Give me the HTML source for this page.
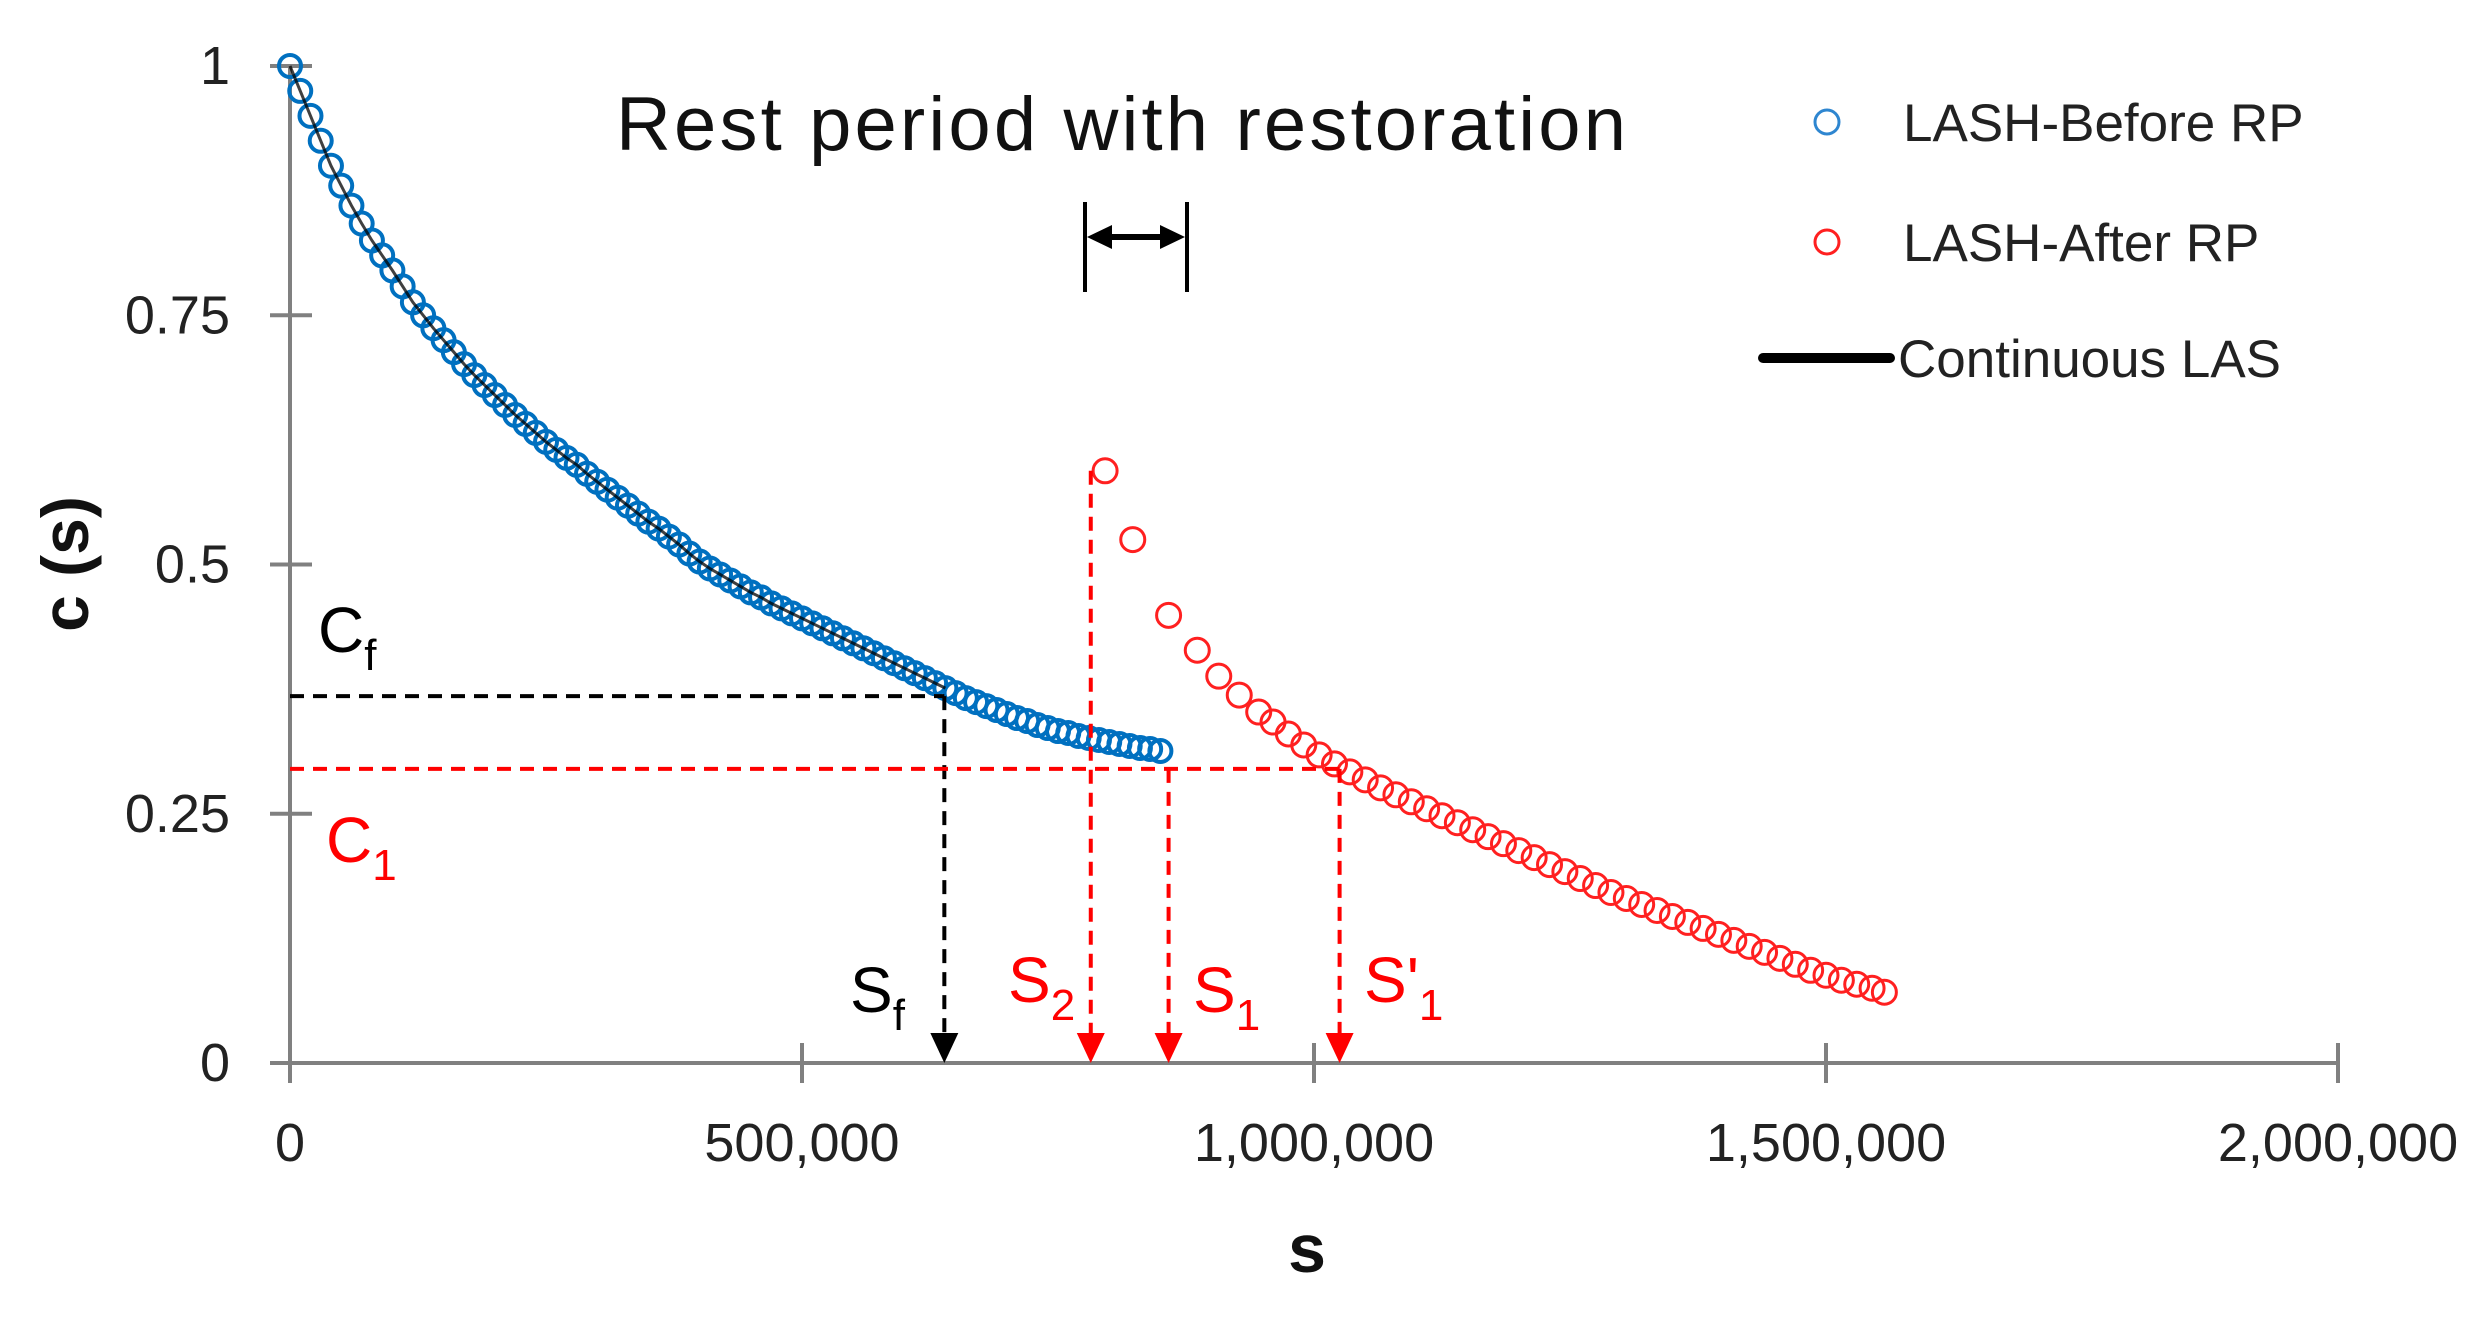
<!DOCTYPE html>
<html><head><meta charset="utf-8"><style>
html,body{margin:0;padding:0;background:#fff}
svg{display:block}
text{font-family:"Liberation Sans","DejaVu Sans",sans-serif}
</style></head><body>
<svg id="chart" width="2476" height="1318" viewBox="0 0 2476 1318" xmlns="http://www.w3.org/2000/svg">
<rect width="2476" height="1318" fill="#fff"/>
<g id="axes"></g>
<g id="series"></g>
<g id="annot"></g>
</svg>
<script>
const xTicks=[0,500000,1000000,1500000,2000000];
const xTickLabels=["0","500,000","1,000,000","1,500,000","2,000,000"];
const yTicks=[0,0.25,0.5,0.75,1];
const yTickLabels=["0","0.25","0.5","0.75","1"];
const beforeS=[0,10000,20000,30000,40000,50000,60000,70000,80000,90000,100000,110000,120000,130000,140000,150000,160000,170000,180000,190000,200000,210000,220000,230000,240000,250000,260000,270000,280000,290000,300000,310000,320000,330000,340000,350000,360000,370000,380000,390000,400000,410000,420000,430000,440000,450000,460000,470000,480000,490000,500000,510000,520000,530000,540000,550000,560000,570000,580000,590000,600000,610000,620000,630000,640000,650000,660000,670000,680000,690000,700000,710000,720000,730000,740000,750000,760000,770000,780000,790000,800000,810000,820000,830000,840000,850000];
const beforeC=[1.0,0.975,0.95,0.925,0.90,0.88,0.86,0.842,0.825,0.81,0.795,0.779,0.763,0.75,0.737,0.725,0.713,0.701,0.69,0.68,0.67,0.66,0.65,0.641,0.632,0.623,0.615,0.607,0.60,0.591,0.583,0.575,0.567,0.559,0.551,0.543,0.536,0.528,0.52,0.511,0.503,0.496,0.49,0.484,0.478,0.472,0.467,0.461,0.456,0.451,0.446,0.441,0.436,0.431,0.426,0.421,0.416,0.411,0.406,0.401,0.396,0.391,0.386,0.381,0.376,0.371,0.366,0.362,0.358,0.354,0.35,0.346,0.343,0.339,0.336,0.333,0.331,0.328,0.326,0.324,0.322,0.32,0.318,0.316,0.315,0.313];
const afterS=[796000,823000,858000,886000,907000,927000,946000,960000,975000,990000,1005000,1020000,1035000,1050000,1065000,1080000,1095000,1110000,1125000,1140000,1155000,1170000,1185000,1200000,1215000,1230000,1245000,1260000,1275000,1290000,1305000,1320000,1335000,1350000,1365000,1380000,1395000,1410000,1425000,1440000,1455000,1470000,1485000,1500000,1515000,1530000,1545000,1557000];
const afterC=[0.594,0.525,0.449,0.414,0.388,0.369,0.352,0.342,0.330,0.319,0.309,0.300,0.292,0.284,0.276,0.269,0.262,0.255,0.248,0.241,0.234,0.227,0.220,0.213,0.206,0.199,0.192,0.185,0.178,0.171,0.165,0.159,0.153,0.147,0.141,0.135,0.129,0.123,0.117,0.111,0.105,0.099,0.093,0.088,0.083,0.079,0.075,0.071];
const cf=0.368, c1=0.295, sf=639000, s2=782000, s1=858000, s1p=1025000;

const NS="http://www.w3.org/2000/svg";
const X0=290,XK=1024/1e6,Y0=1063,YK=997;
function sx(v){return X0+v*XK;}
function sy(v){return Y0-v*YK;}
function mk(tag,attrs,parent){const e=document.createElementNS(NS,tag);for(const k in attrs)e.setAttribute(k,attrs[k]);parent.appendChild(e);return e;}
const axes=document.getElementById('axes'),series=document.getElementById('series'),annot=document.getElementById('annot');
let e;
e=mk('line',{x1:sx(0),y1:sy(0),x2:sx(2000000),y2:sy(0),stroke:'#808080','stroke-width':4},axes);


e=mk('line',{x1:sx(0),y1:sy(0)+18,x2:sx(0),y2:sy(1),stroke:'#808080','stroke-width':4},axes);


xTicks.forEach((t,i)=>{
  e=mk('line',{x1:sx(t),y1:sy(0)-20,x2:sx(t),y2:sy(0)+20,stroke:'#808080','stroke-width':4},axes);
  
  
  e=mk('text',{x:sx(t),y:1161,'font-size':54,'text-anchor':'middle',fill:'#222'},axes);
  e.textContent=xTickLabels[i];
  
  
});
yTicks.forEach((t,i)=>{
  e=mk('line',{x1:sx(0)-20,y1:sy(t),x2:sx(0)+22,y2:sy(t),stroke:'#808080','stroke-width':4},axes);
  
  
  e=mk('text',{x:230,y:sy(t)+18,'font-size':54,'text-anchor':'end',fill:'#222'},axes);
  e.textContent=yTickLabels[i];
  
  
});
e=mk('text',{x:1307,y:1272,'font-size':68,'font-weight':'bold','text-anchor':'middle',fill:'#111'},axes);
e.textContent='s';


e=mk('text',{x:0,y:0,'font-size':66,'font-weight':'bold','text-anchor':'middle',fill:'#111',transform:'translate(88,564) rotate(-90)'},axes);
e.textContent='c (s)';



beforeS.forEach((s,i)=>{
  e=mk('circle',{cx:sx(s),cy:sy(beforeC[i]),r:11,fill:'none',stroke:'#0070C0','stroke-width':4},series);
  
  
});
let pts=[];beforeS.forEach((s,i)=>{if(s<=sf+10000)pts.push((pts.length?'L':'M')+sx(s)+' '+sy(beforeC[i]));});
e=mk('path',{d:pts.join(' '),fill:'none',stroke:'#000','stroke-width':3,opacity:0.75},series);


afterS.forEach((s,i)=>{
  e=mk('circle',{cx:sx(s),cy:sy(afterC[i]),r:12,fill:'none',stroke:'#FF2020','stroke-width':3},series);
  
  
});

function dash(x1,y1,x2,y2,col,name){
  e=mk('line',{x1:x1,y1:y1,x2:x2,y2:y2,stroke:col,'stroke-width':4,'stroke-dasharray':'14 9'},annot);
  
  
}
function arrowHead(x,col,name){
  const y=sy(0);
  e=mk('polygon',{points:(x-14)+','+(y-30)+' '+(x+14)+','+(y-30)+' '+x+','+y,fill:col},annot);
  
  
}
dash(sx(0),sy(cf),sx(sf),sy(cf),'#000','cf-line');
dash(sx(sf),sy(cf),sx(sf),sy(0)-28,'#000','sf-line');
arrowHead(sx(sf),'#000','sf-arrow');
dash(sx(0),sy(c1),sx(s1p),sy(c1),'#FF0000','c1-line');
dash(sx(s2),sy(afterC[0]),sx(s2),sy(0)-28,'#FF0000','s2-line');
arrowHead(sx(s2),'#FF0000','s2-arrow');
dash(sx(s1),sy(c1),sx(s1),sy(0)-28,'#FF0000','s1-line');
arrowHead(sx(s1),'#FF0000','s1-arrow');
dash(sx(s1p),sy(c1),sx(s1p),sy(0)-28,'#FF0000','s1-prime-line');
arrowHead(sx(s1p),'#FF0000','s1-prime-arrow');

function label(x,y,main,sub,col,name){
  e=mk('text',{x:x,y:y,'font-size':64,fill:col},annot);
  
  
  e.appendChild(document.createTextNode(main));
  const t=document.createElementNS(NS,'tspan');t.setAttribute('font-size',44);t.setAttribute('dy',18);t.textContent=sub;e.appendChild(t);
}
label(318,652,'C','f','#000','cf-label');
label(326,862,'C','1','#FF0000','c1-label');
label(850,1012,'S','f','#000','sf-label');
label(1008,1002,'S','2','#FF0000','s2-label');
label(1193,1012,'S','1','#FF0000','s1-label');
label(1364,1002,"S'",'1','#FF0000','s1-prime-label');

e=mk('text',{x:1121,y:150,'font-size':76,'text-anchor':'middle',fill:'#111',textLength:1010,lengthAdjust:'spacing'},annot);
e.textContent='Rest period with restoration';


const ag=mk('g',{stroke:'#000','stroke-width':4},annot);


mk('line',{x1:1085,y1:202,x2:1085,y2:292},ag);
mk('line',{x1:1187,y1:202,x2:1187,y2:292},ag);
mk('line',{x1:1105,y1:237,x2:1167,y2:237,'stroke-width':6},ag);
mk('polygon',{points:'1087,237 1112,225 1112,249',fill:'#000',stroke:'none'},ag);
mk('polygon',{points:'1185,237 1160,225 1160,249',fill:'#000',stroke:'none'},ag);

const lg=mk('g',{},annot);


e=mk('circle',{cx:1827,cy:122,r:12,fill:'none',stroke:'#2E86D0','stroke-width':3},lg);


e=mk('text',{x:1903,y:141,'font-size':53,fill:'#222'},lg);e.textContent='LASH-Before RP';


e=mk('circle',{cx:1827,cy:242,r:12,fill:'none',stroke:'#FF2020','stroke-width':3},lg);


e=mk('text',{x:1903,y:261,'font-size':53,fill:'#222'},lg);e.textContent='LASH-After RP';


e=mk('line',{x1:1763,y1:358,x2:1890,y2:358,stroke:'#000','stroke-width':10,'stroke-linecap':'round'},lg);


e=mk('text',{x:1898,y:377,'font-size':53,fill:'#222'},lg);e.textContent='Continuous LAS';


</script>
</body></html>
